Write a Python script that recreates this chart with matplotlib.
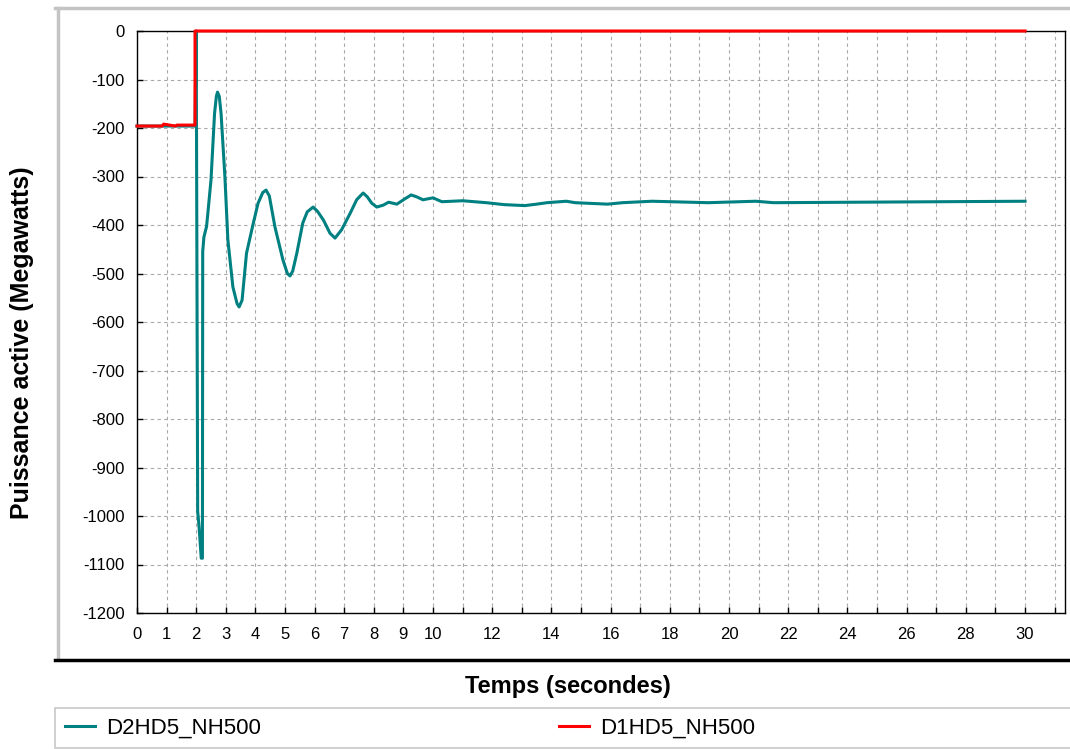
import matplotlib
matplotlib.use("Agg")
import matplotlib.pyplot as plt
from matplotlib.lines import Line2D
from matplotlib.patches import Rectangle

plt.rcParams['font.family'] = ['Liberation Sans', 'DejaVu Sans']
plt.rcParams['axes.unicode_minus'] = False

# --- data ---
t_d2 = [0.0, 1.96, 2.0, 2.05, 2.10, 2.17, 2.21, 2.22, 2.26, 2.35, 2.41, 2.50,
        2.62, 2.68, 2.72, 2.78, 2.84, 2.97, 3.07, 3.24, 3.38, 3.45, 3.55, 3.70,
        3.93, 4.09, 4.25, 4.36, 4.47, 4.66, 4.93, 5.08, 5.17, 5.26, 5.40, 5.60,
        5.75, 5.95, 6.10, 6.30, 6.52, 6.69, 6.91, 7.20, 7.42, 7.64, 7.78, 7.93,
        8.10, 8.32, 8.50, 8.78, 9.00, 9.26, 9.45, 9.66, 10.0, 10.3, 11.0, 11.8,
        12.4, 13.1, 13.5, 13.85, 14.5, 14.8, 15.9, 16.4, 17.4, 19.3, 20.9, 21.5,
        30.0]
p_d2 = [-196, -196, 0, -990, -1025, -1087, -1087, -455, -425, -403, -365, -307,
        -170, -135, -126, -135, -170, -301, -431, -528, -562, -569, -555, -458,
        -396, -355, -333, -328, -340, -404, -472, -500, -505, -495, -458, -396,
        -373, -363, -372, -390, -417, -427, -410, -376, -348, -334, -342, -355,
        -363, -359, -353, -357, -348, -338, -342, -348, -344, -352, -350, -354,
        -358, -360, -357, -354, -351, -354, -357, -354, -351, -354, -351, -354,
        -351]

t_d1 = [0.0, 0.85, 0.9, 1.0, 1.3, 1.35, 1.96, 1.96, 30.0]
p_d1 = [-196, -196, -192, -193, -196, -194, -194, 0, 0]

series_names = ["D2HD5_NH500", "D1HD5_NH500"]
series_colors = ["#008080", "#ff0000"]

x_ticks = list(range(0, 32))
x_labels = [str(v) if (v <= 10 or (v % 2 == 0 and v <= 30)) else "" for v in x_ticks]
y_ticks = list(range(-1200, 1, 100))

W, H = 1070, 749
fig = plt.figure(figsize=(W / 100, H / 100), dpi=100)
fig.patch.set_facecolor("white")

# outer panel border (light top/left, dark bottom)
fig.add_artist(Line2D([55 / W, 1.0], [1 - 8 / H, 1 - 8 / H], color="#c4c4c4", lw=2.5))
fig.add_artist(Line2D([58 / W, 58 / W], [1 - 8 / H, 1 - 659 / H], color="#c4c4c4", lw=2.5))
fig.add_artist(Line2D([55 / W, 1.0], [1 - 660 / H, 1 - 660 / H], color="black", lw=2.5))

ax = fig.add_axes([137 / W, 1 - 613 / H, 928 / W, 582 / H])
ax.plot(t_d2, p_d2, color=series_colors[0], lw=2.2, zorder=3, clip_on=False)
ax.plot(t_d1, p_d1, color=series_colors[1], lw=2.2, zorder=4, clip_on=False)

ax.set_xlim(0, 31.35)
ax.set_ylim(-1200, 0)
ax.set_xticks(x_ticks)
ax.set_xticklabels(x_labels)
ax.set_yticks(y_ticks)
ax.set_yticklabels([str(v) for v in y_ticks])
ax.tick_params(direction="in", length=4, width=1, labelsize=12, pad=9)
ax.tick_params(axis="x", pad=10)
ax.grid(True, color="#a8a8a8", linestyle=(0, (3, 3)), linewidth=0.8)
for sp in ax.spines.values():
    sp.set_color("black")
    sp.set_linewidth(1.0)

fig.text(22 / W, 1 - 343 / H, "Puissance active (Megawatts)", rotation=90,
         ha="center", va="center", fontsize=18, fontweight="bold")
fig.text(568 / W, 1 - 687 / H, "Temps (secondes)", ha="center", va="center",
         fontsize=17, fontweight="bold")

# legend box
fig.add_artist(Rectangle((55 / W, 1 - 748 / H), 1.0, 40 / H, transform=fig.transFigure,
                         facecolor="white", edgecolor="#c8c8c8", lw=1.2))
handles = [Line2D([], [], color=c, lw=2.2) for c in series_colors]
fig.legend(handles, series_names, loc="center left", bbox_to_anchor=(65 / W, 1 - 728 / H),
           ncol=2, frameon=False, fontsize=16, handlelength=1.35, handletextpad=0.5,
           columnspacing=13.4, borderpad=0, borderaxespad=0)

fig.savefig("out.png", dpi=100)
